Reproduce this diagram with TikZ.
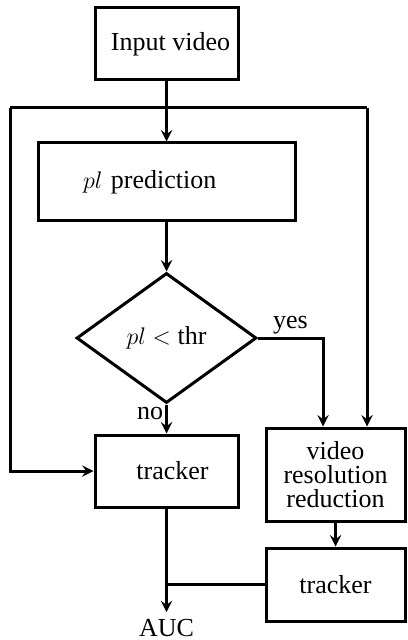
\documentclass[tikz,border=0pt]{standalone}
\usepackage{amsmath, amssymb}
\usepackage{fontspec}
\setmainfont{Liberation Serif}
\usepackage{tikz}
\usetikzlibrary{calc, shapes.geometric, positioning}

\tikzset{
    txt/.style={font=\fontsize{13pt}{12pt}\selectfont},
    boxnode/.style={txt, draw, line width=1.5pt, inner sep=0pt},
    decnode/.style={txt, draw, diamond, line width=1.5pt, inner sep=0pt},
    conn/.style={line width=1.5pt}
}

\begin{document}
\begin{tikzpicture}[>=stealth, x=0.5pt, y=-0.5pt]

    \useasboundingbox (0,0) rectangle (407,640);

    % =================================================================
    % CAC KHOI CHINH
    % =================================================================
    \node[boxnode, minimum width=71.5pt, minimum height=36pt] (input) at (166.5,44) {\hspace{4pt}Input video};

    \node[boxnode, text width=83.5pt, inner xsep=22.5pt, minimum height=39pt, align=left] (pred) at (166.5,182) {$pl$ prediction};

    \node[decnode, minimum width=90pt, minimum height=65pt] (dec) at (166.5,338) {$pl < \text{thr}$};

    \node[boxnode, minimum width=71.5pt, minimum height=36pt] (trk1) at (166.5,471) {\hspace{6pt}tracker};

    \node[boxnode, minimum width=69.5pt, minimum height=46.5pt, align=center] (vrr) at (335.5,474.5) {video\\resolution\\reduction};

    \node[boxnode, minimum width=69.5pt, minimum height=36.5pt] (trk2) at (335.5,584.5) {tracker};

    \node[txt] (auc) at (166.5,628) {AUC};

    % =================================================================
    % DUONG VONG BAO QUANH
    % =================================================================
    \coordinate (lcorner) at (10,108);
    \coordinate (rcorner) at (367,108);

    \draw[conn] (lcorner) -- (rcorner);
    \draw[conn, ->] (lcorner) |- (trk1.west);
    \draw[conn, ->] (rcorner) -- (rcorner |- vrr.north);

    % =================================================================
    % CAC MUI TEN NOI
    % =================================================================
    \draw[conn, ->] (input.south) -- (pred.north);
    \draw[conn, ->] (pred.south) -- (dec.north);

    % Nhanh yes / no
    \draw[conn, ->] (dec.east) -| ([xshift=-6.25pt]vrr.north) node[txt, pos=0.25, above, inner sep=1pt] {yes};
    \draw[conn, ->] (dec.south) -- (trk1.north) node[txt, pos=0.3, left, inner sep=1pt] {no};

    \draw[conn, ->] (vrr.south) -- (trk2.north);

    % Dau ra AUC
    \draw[conn, ->] (trk1.south) -- (auc.north);
    \draw[conn] (trk2.west) -- (trk2.west -| trk1.south);

\end{tikzpicture}
\end{document}
